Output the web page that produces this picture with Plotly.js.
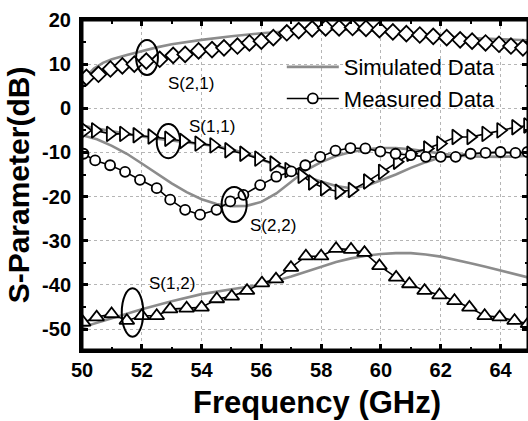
<!DOCTYPE html>
<html>
<head>
<meta charset="utf-8">
<script src="https://cdn.plot.ly/plotly-3.0.1.min.js"></script>
<style>html,body{margin:0;padding:0;background:#fff;}#chart{width:528px;height:421px;}</style>
</head>
<body>
<div id="chart"></div>
<script>
// ---- Data (frequency in GHz, S-parameters in dB) ----
const s21SimF = [50, 50.1, 50.2, 50.4, 50.7, 51, 51.5, 52, 52.5, 53, 53.5, 54, 55, 56, 57, 58, 59, 60, 61, 62, 63, 64, 64.92];
const s21SimV = [4.4, 6.3, 7.6, 9.0, 10.3, 11.1, 12.1, 13.0, 13.8, 14.5, 15.0, 15.5, 16.3, 17.0, 17.5, 17.8, 17.8, 17.5, 17.0, 16.3, 15.9, 15.6, 15.4];

const s11SimF = [50, 50.5, 51, 51.5, 52, 52.5, 53, 53.5, 54, 54.5, 55, 55.5, 56, 56.5, 57, 57.5, 58, 58.5, 59, 59.5, 60, 60.5, 61, 61.5, 62, 62.5, 63, 63.5, 64, 64.5, 64.92];
const s11SimV = [-3.9, -4.6, -5.2, -5.8, -6.4, -6.9, -7.3, -7.7, -8.1, -8.6, -9.3, -10.3, -11.6, -12.9, -14.2, -15.5, -16.6, -17.6, -18.1, -17.6, -16.3, -15.0, -13.5, -12.2, -11.1, -10.6, -10.3, -10.1, -10.0, -10.1, -10.3];

const s22SimF = [50, 50.5, 51, 51.5, 52, 52.5, 53, 53.5, 54, 54.5, 55, 55.5, 56, 56.5, 57, 57.5, 58, 58.5, 59, 59.5, 60, 60.5, 61, 61.5, 62, 62.5, 63, 63.5, 64, 64.5, 64.92];
const s22SimV = [-6.1, -7.0, -8.5, -10.3, -12.5, -14.8, -17.0, -19.0, -20.6, -21.7, -22.2, -22.1, -21.2, -19.3, -16.6, -14.0, -12.2, -10.8, -9.9, -9.3, -9.0, -9.0, -9.3, -9.8, -10.3, -10.7, -10.9, -11.0, -11.0, -10.9, -10.8];

const s12SimF = [50, 51, 52, 53, 54, 55, 56, 57, 58, 58.5, 59, 59.5, 60, 60.5, 61, 61.5, 62, 62.5, 63, 63.5, 64, 64.5, 64.92];
const s12SimV = [-49.6, -47.5, -45.5, -43.7, -42.1, -41.0, -40.0, -38.1, -35.8, -34.8, -34.0, -33.4, -33.0, -32.8, -32.8, -33.1, -33.6, -34.3, -35.1, -35.9, -36.7, -37.5, -38.3];

const s21MeasF = [50.15, 50.55, 50.95, 51.35, 51.75, 52.15, 52.6, 53.05, 53.45, 53.9, 54.35, 54.75, 55.2, 55.6, 56.0, 56.4, 56.85, 57.25, 57.7, 58.15, 58.6, 59.05, 59.5, 59.95, 60.4, 60.85, 61.3, 61.75, 62.2, 62.65, 63.05, 63.5, 63.95, 64.35, 64.75];
const s21MeasV = [7.0, 7.7, 8.9, 9.6, 10.0, 10.7, 11.1, 12.0, 12.2, 13.0, 13.3, 13.7, 14.1, 14.8, 15.2, 16.0, 17.1, 17.6, 18.0, 18.2, 18.2, 18.3, 18.1, 17.8, 17.3, 16.9, 16.6, 16.3, 16.0, 15.5, 15.2, 14.8, 14.5, 14.1, 13.7];

const s11MeasF = [50.1, 50.44, 50.94, 51.38, 51.83, 52.33, 52.89, 53.39, 53.9, 54.4, 54.9, 55.4, 55.9, 56.41, 56.91, 57.35, 57.7, 58.1, 58.59, 59.03, 59.54, 60.04, 60.54, 60.99, 61.55, 61.99, 62.5, 63.0, 63.5, 64.0, 64.5, 64.9];
const s11MeasV = [-5.0, -5.0, -5.8, -5.8, -6.1, -6.4, -6.9, -7.4, -8.0, -8.4, -9.5, -10.3, -11.4, -12.5, -14.0, -15.3, -16.8, -18.1, -18.9, -18.5, -16.6, -14.4, -12.1, -10.3, -9.1, -8.0, -6.5, -6.5, -5.8, -5.0, -4.3, -3.9];

const s22MeasF = [50.05, 50.44, 50.94, 51.44, 51.94, 52.5, 52.95, 53.45, 53.95, 54.5, 54.96, 55.4, 55.96, 56.5, 57.0, 57.47, 57.97, 58.48, 58.98, 59.48, 59.98, 60.49, 61.0, 61.5, 62.0, 62.5, 63.0, 63.5, 64.0, 64.5, 64.9];
const s22MeasV = [-10.3, -11.8, -12.9, -14.4, -16.2, -18.1, -20.7, -23.0, -24.1, -23.0, -21.1, -19.6, -17.4, -15.5, -14.3, -12.9, -11.0, -9.6, -9.0, -9.1, -9.8, -10.3, -10.6, -11.0, -11.0, -11.0, -10.3, -10.1, -9.9, -10.1, -9.9];

const s12MeasF = [50.04, 50.49, 50.99, 51.5, 52.0, 52.5, 52.95, 53.5, 54.0, 54.51, 55.01, 55.52, 56.02, 56.49, 56.99, 57.49, 58.0, 58.5, 59.0, 59.45, 59.95, 60.51, 60.95, 61.46, 61.96, 62.46, 62.96, 63.47, 63.97, 64.47, 64.92];
const s12MeasV = [-48.5, -47.3, -46.6, -48.1, -47.0, -47.0, -45.5, -45.3, -45.1, -43.2, -42.6, -41.3, -39.6, -38.7, -36.1, -33.5, -33.5, -31.8, -32.0, -32.7, -35.7, -38.3, -39.8, -41.3, -42.3, -43.6, -45.1, -47.0, -47.3, -48.1, -48.8];

// Labels and highlight ellipses: [x0, x1, y0, y1]
const labelText = ["S(2,1)", "S(1,1)", "S(2,2)", "S(1,2)"];
const labelX = [52.81, 53.51, 55.55, 52.16];
const labelY = [5.7, -4.2, -26.5, -39.6];
const ellipses = [
  [51.81, 52.54, 7.54, 15.47],
  [52.5, 53.28, -11.33, -3.56],
  [54.67, 55.51, -25.76, -17.83],
  [51.33, 52.05, -51.74, -40.78]
];

const xTickVals = [50, 52, 54, 56, 58, 60, 62, 64];
const yTickVals = [-50, -40, -30, -20, -10, 0, 10, 20];

// ---- Styles ----
const simColor = '#8c8c8c';
const simLine = {color: simColor, width: 2.6};
const measLine = {color: '#000', width: 1.6};
function mk(symbol, size) {
  return {symbol: symbol, size: size, color: '#fff', line: {color: '#000', width: 1.8}};
}
function sim(x, y, name, show) {
  return {x: x, y: y, type: 'scatter', mode: 'lines', line: simLine, name: name, showlegend: show, legendrank: 1};
}
function meas(x, y, symbol, size, name, show) {
  return {x: x, y: y, type: 'scatter', mode: 'lines+markers', line: measLine, marker: mk(symbol, size), name: name, showlegend: show, legendrank: 2};
}

const traces = [
  sim(s21SimF, s21SimV, 'Simulated Data', true),
  sim(s11SimF, s11SimV, 'S11 sim', false),
  sim(s22SimF, s22SimV, 'S22 sim', false),
  sim(s12SimF, s12SimV, 'S12 sim', false),
  meas(s21MeasF, s21MeasV, 'diamond', 12, 'S21', false),
  meas(s11MeasF, s11MeasV, 'triangle-right', 13, 'S11', false),
  meas(s22MeasF, s22MeasV, 'circle', 10, 'Measured Data', true),
  meas(s12MeasF, s12MeasV, 'triangle-up', 13, 'S12', false)
];

const font = 'Liberation Sans, Arial, sans-serif';

const annotations = labelText.map((t, i) => ({
  x: labelX[i], y: labelY[i], xref: 'x', yref: 'y', text: t, showarrow: false,
  xanchor: 'left', yanchor: 'middle', font: {family: font, size: 17, color: '#000'}
}));
annotations.push({
  x: 0.528, y: 0, xref: 'paper', yref: 'paper', yshift: -33, text: '<b>Frequency (GHz)</b>', showarrow: false,
  xanchor: 'center', yanchor: 'top', font: {family: font, size: 31, color: '#000'}
});

const shapes = ellipses.map(e => ({
  type: 'circle', xref: 'x', yref: 'y', x0: e[0], x1: e[1], y0: e[2], y1: e[3],
  line: {color: '#000', width: 2}
}));
// plot frame
shapes.push({type: 'rect', xref: 'paper', yref: 'paper', x0: 0, x1: 1, y0: 0, y1: 1,
  line: {color: '#000', width: 3}, layer: 'above'});

const axisCommon = {
  showline: true, linecolor: '#000', linewidth: 3, mirror: 'allticks',
  ticks: 'inside', ticklen: 6, tickwidth: 3, tickcolor: '#000',
  showgrid: true, gridcolor: '#b5b5b5', griddash: 'dot', gridwidth: 1,
  zeroline: false,
  tickfont: {family: font, size: 20, color: '#000', weight: 'bold'},
  minor: {ticks: 'inside', ticklen: 3.5, tickwidth: 2, tickcolor: '#000', showgrid: false}
};

const layout = {
  width: 528, height: 421,
  margin: {l: 82, r: 0, t: 20, b: 71},
  paper_bgcolor: '#fff', plot_bgcolor: '#fff',
  showlegend: true,
  legend: {
    x: 0.448, y: 0.921, xanchor: 'left', yanchor: 'top',
    bgcolor: 'rgba(0,0,0,0)', borderwidth: 0,
    font: {family: font, size: 22, color: '#000'},
    itemwidth: 52, tracegroupgap: 0
  },
  xaxis: Object.assign({}, axisCommon, {
    range: [50, 64.92], tickvals: xTickVals, ticktext: xTickVals.map(String),
    minor: Object.assign({}, axisCommon.minor, {dtick: 1, tick0: 50}),
    title: {text: ''}
  }),
  yaxis: Object.assign({}, axisCommon, {
    range: [-54.75, 20], tickvals: yTickVals, ticktext: yTickVals.map(String),
    minor: Object.assign({}, axisCommon.minor, {dtick: 5, tick0: 0}),
    ticklabelstandoff: 4,
    title: {text: '<b>S-Parameter(dB)</b>', font: {family: font, size: 30, color: '#000'}, standoff: 4}
  }),
  annotations: annotations,
  shapes: shapes
};

Plotly.newPlot('chart', traces, layout, {displayModeBar: false, staticPlot: true});
</script>
</body>
</html>
